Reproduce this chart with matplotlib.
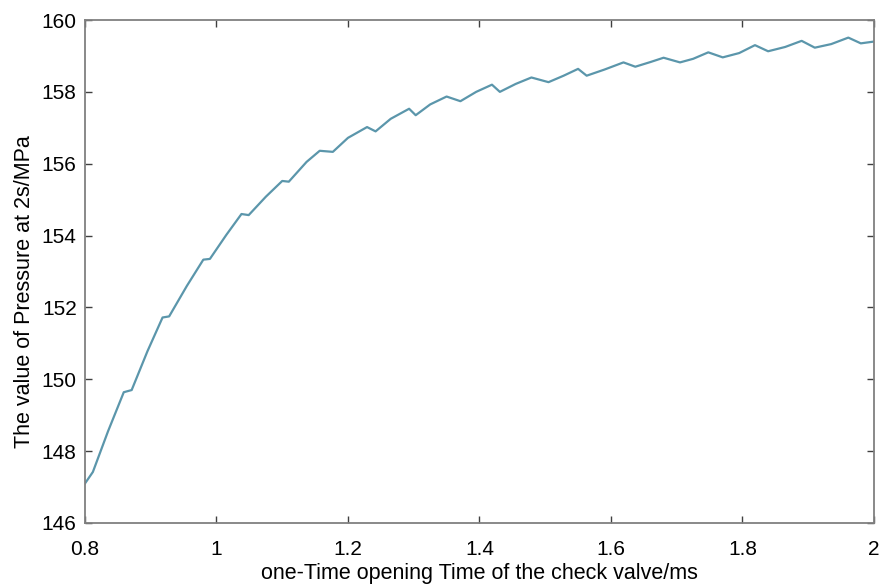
import numpy as np
import matplotlib
matplotlib.use("Agg")
import matplotlib.pyplot as plt

plt.rcParams['font.family'] = ['Liberation Sans', 'DejaVu Sans']

# opening time of the check valve (ms) and pressure at 2 s (MPa)
opening_time = [
    0.800, 0.812, 0.835, 0.859, 0.871, 0.895, 0.918, 0.928, 0.955,
    0.980, 0.990, 1.015, 1.038, 1.049, 1.075, 1.100, 1.110, 1.137,
    1.157, 1.177, 1.200, 1.229, 1.242, 1.265, 1.293, 1.303, 1.325,
    1.350, 1.371, 1.395, 1.419, 1.431, 1.455, 1.479, 1.505, 1.528,
    1.550, 1.563, 1.590, 1.619, 1.637, 1.660, 1.680, 1.705, 1.725,
    1.748, 1.770, 1.795, 1.819, 1.839, 1.865, 1.890, 1.910, 1.935,
    1.961, 1.980, 2.000,
]
pressure = [
    147.10, 147.42, 148.55, 149.64, 149.70, 150.78, 151.72, 151.75, 152.60,
    153.33, 153.35, 154.02, 154.60, 154.57, 155.08, 155.52, 155.50, 156.05,
    156.36, 156.33, 156.72, 157.02, 156.90, 157.25, 157.53, 157.35, 157.65,
    157.87, 157.74, 158.00, 158.20, 158.00, 158.22, 158.40, 158.27, 158.45,
    158.64, 158.45, 158.62, 158.82, 158.70, 158.83, 158.95, 158.82, 158.92,
    159.10, 158.96, 159.08, 159.30, 159.13, 159.25, 159.42, 159.23, 159.33,
    159.51, 159.35, 159.40,
]

x_ticks = [0.8, 1.0, 1.2, 1.4, 1.6, 1.8, 2.0]
x_tick_labels = ['0.8', '1', '1.2', '1.4', '1.6', '1.8', '2']
y_ticks = [146, 148, 150, 152, 154, 156, 158, 160]

fig = plt.figure(figsize=(8.88, 5.85), dpi=100)
ax = fig.add_axes([0.0957, 0.106, 0.8885, 0.8598])

ax.plot(opening_time, pressure, color='#5b96ab', linewidth=1.6)

ax.set_xlim(0.8, 2.0)
ax.set_ylim(146, 160)
ax.set_xticks(x_ticks)
ax.set_xticklabels(x_tick_labels)
ax.set_yticks(y_ticks)

for spine in ax.spines.values():
    spine.set_color('#808080')
    spine.set_linewidth(1.3)

ax.tick_params(direction='in', length=5, width=1.0, color='#404040',
               top=True, right=True, labelsize=15)
ax.tick_params(axis='x', pad=12)
ax.tick_params(axis='y', pad=6)

ax.set_xlabel('one-Time opening Time of the check valve/ms', fontsize=15.5, labelpad=3)
ax.set_ylabel('The value of Pressure at 2s/MPa', fontsize=15.5, labelpad=5)
# y label sits a little below the middle of the axis
ax.yaxis.label.set_y(0.46)

fig.savefig('out.png', dpi=100)
